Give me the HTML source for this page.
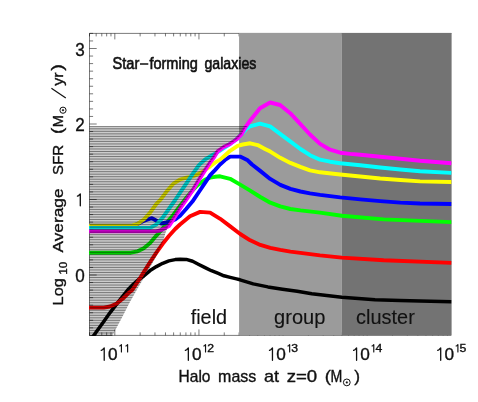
<!DOCTYPE html>
<html><head><meta charset="utf-8"><title>plot</title>
<style>
html,body{margin:0;padding:0;background:#fff;}
body{width:478px;height:402px;overflow:hidden;font-family:"Liberation Sans",sans-serif;}
svg{display:block;will-change:transform;}
text{font-family:"Liberation Sans",sans-serif;fill:#111;}
</style></head><body>
<svg width="478" height="402" viewBox="0 0 478 402">
<rect x="0" y="0" width="478" height="402" fill="#fff"/>

<g stroke="#000" stroke-width="0.85" stroke-opacity="0.62" fill="none">
<path d="M89.5,335.4 L89.5,33.4 L451.3,33.4"/>
<path d="M89.5,335.4 L451.3,335.4"/>
<path d="M89.5,335.40 h3.6"/>
<path d="M89.5,327.85 h3.6"/>
<path d="M89.5,320.30 h3.6"/>
<path d="M89.5,312.75 h3.6"/>
<path d="M89.5,305.20 h3.6"/>
<path d="M89.5,297.65 h3.6"/>
<path d="M89.5,290.10 h3.6"/>
<path d="M89.5,282.55 h3.6"/>
<path d="M89.5,275.00 h7.2"/>
<path d="M89.5,267.45 h3.6"/>
<path d="M89.5,259.90 h3.6"/>
<path d="M89.5,252.35 h3.6"/>
<path d="M89.5,244.80 h3.6"/>
<path d="M89.5,237.25 h3.6"/>
<path d="M89.5,229.70 h3.6"/>
<path d="M89.5,222.15 h3.6"/>
<path d="M89.5,214.60 h3.6"/>
<path d="M89.5,207.05 h3.6"/>
<path d="M89.5,199.50 h7.2"/>
<path d="M89.5,191.95 h3.6"/>
<path d="M89.5,184.40 h3.6"/>
<path d="M89.5,176.85 h3.6"/>
<path d="M89.5,169.30 h3.6"/>
<path d="M89.5,161.75 h3.6"/>
<path d="M89.5,154.20 h3.6"/>
<path d="M89.5,146.65 h3.6"/>
<path d="M89.5,139.10 h3.6"/>
<path d="M89.5,131.55 h3.6"/>
<path d="M89.5,124.00 h7.2"/>
<path d="M89.5,116.45 h3.6"/>
<path d="M89.5,108.90 h3.6"/>
<path d="M89.5,101.35 h3.6"/>
<path d="M89.5,93.80 h3.6"/>
<path d="M89.5,86.25 h3.6"/>
<path d="M89.5,78.70 h3.6"/>
<path d="M89.5,71.15 h3.6"/>
<path d="M89.5,63.60 h3.6"/>
<path d="M89.5,56.05 h3.6"/>
<path d="M89.5,48.50 h7.2"/>
<path d="M89.5,40.95 h3.6"/>
<path d="M89.5,33.40 h3.6"/>
<path d="M89.50,33.4 v3"/>
<path d="M89.50,335.4 v-3"/>
<path d="M96.16,33.4 v3"/>
<path d="M96.16,335.4 v-3"/>
<path d="M101.79,33.4 v3"/>
<path d="M101.79,335.4 v-3"/>
<path d="M106.67,33.4 v3"/>
<path d="M106.67,335.4 v-3"/>
<path d="M110.97,33.4 v3"/>
<path d="M110.97,335.4 v-3"/>
<path d="M114.82,33.4 v6"/>
<path d="M114.82,335.4 v-6"/>
<path d="M140.14,33.4 v3"/>
<path d="M140.14,335.4 v-3"/>
<path d="M154.96,33.4 v3"/>
<path d="M154.96,335.4 v-3"/>
<path d="M165.47,33.4 v3"/>
<path d="M165.47,335.4 v-3"/>
<path d="M173.62,33.4 v3"/>
<path d="M173.62,335.4 v-3"/>
<path d="M180.28,33.4 v3"/>
<path d="M180.28,335.4 v-3"/>
<path d="M185.91,33.4 v3"/>
<path d="M185.91,335.4 v-3"/>
<path d="M190.79,33.4 v3"/>
<path d="M190.79,335.4 v-3"/>
<path d="M195.09,33.4 v3"/>
<path d="M195.09,335.4 v-3"/>
<path d="M198.94,33.4 v6"/>
<path d="M198.94,335.4 v-6"/>
<path d="M224.26,33.4 v3"/>
<path d="M224.26,335.4 v-3"/>
<path d="M239.08,33.4 v3"/>
<path d="M239.08,335.4 v-3"/>
<path d="M249.59,33.4 v3"/>
<path d="M249.59,335.4 v-3"/>
<path d="M257.74,33.4 v3"/>
<path d="M257.74,335.4 v-3"/>
<path d="M264.40,33.4 v3"/>
<path d="M264.40,335.4 v-3"/>
<path d="M270.03,33.4 v3"/>
<path d="M270.03,335.4 v-3"/>
<path d="M274.91,33.4 v3"/>
<path d="M274.91,335.4 v-3"/>
<path d="M279.21,33.4 v3"/>
<path d="M279.21,335.4 v-3"/>
<path d="M283.06,33.4 v6"/>
<path d="M283.06,335.4 v-6"/>
<path d="M308.38,33.4 v3"/>
<path d="M308.38,335.4 v-3"/>
<path d="M323.20,33.4 v3"/>
<path d="M323.20,335.4 v-3"/>
<path d="M333.71,33.4 v3"/>
<path d="M333.71,335.4 v-3"/>
<path d="M341.86,33.4 v3"/>
<path d="M341.86,335.4 v-3"/>
<path d="M348.52,33.4 v3"/>
<path d="M348.52,335.4 v-3"/>
<path d="M354.15,33.4 v3"/>
<path d="M354.15,335.4 v-3"/>
<path d="M359.03,33.4 v3"/>
<path d="M359.03,335.4 v-3"/>
<path d="M363.33,33.4 v3"/>
<path d="M363.33,335.4 v-3"/>
<path d="M367.18,33.4 v6"/>
<path d="M367.18,335.4 v-6"/>
<path d="M392.50,33.4 v3"/>
<path d="M392.50,335.4 v-3"/>
<path d="M407.32,33.4 v3"/>
<path d="M407.32,335.4 v-3"/>
<path d="M417.83,33.4 v3"/>
<path d="M417.83,335.4 v-3"/>
<path d="M425.98,33.4 v3"/>
<path d="M425.98,335.4 v-3"/>
<path d="M432.64,33.4 v3"/>
<path d="M432.64,335.4 v-3"/>
<path d="M438.27,33.4 v3"/>
<path d="M438.27,335.4 v-3"/>
<path d="M443.15,33.4 v3"/>
<path d="M443.15,335.4 v-3"/>
<path d="M447.45,33.4 v3"/>
<path d="M447.45,335.4 v-3"/>
</g>
<rect x="239.08" y="33.0" width="102.78" height="302.2" fill="#9b9b9b"/>
<rect x="341.86" y="33.0" width="109.74" height="302.2" fill="#737373"/>
<defs><clipPath id="plot"><rect x="89.0" y="33.4" width="362.6" height="302.5"/></clipPath>
<clipPath id="hp"><polygon points="89.5,125.9 247.5,125.9 245.2,127.6 241.4,134.5 236.4,139.5 230.1,143.9 223.8,147 217.6,151.4 213.5,158.2 210.2,162.6 205.2,170.1 198.9,180.1 192.7,190.2 185.5,200.9 181.1,207 176.8,213.9 172.4,220.9 168,226.5 165.5,232.7 163.5,240 158.3,252.6 151.4,265.1 136.7,290 129.6,302.6 123.3,315.1 112.4,335.4 112.4,336 89.5,336"/></clipPath></defs>
<g clip-path="url(#plot)" fill="none" stroke-width="3.9" stroke-linejoin="round" stroke-linecap="butt">
<path d="M88,343 L94.4,334.6 L103.8,321.4 L110.1,312.6 L116.4,304.4 L122.7,296.3 L127.7,290 L133,284.5 L138,280 L143.8,276.0 L150.1,270.6 L156.4,266.6 L162.7,263.3 L168.9,260.9 L175.2,259.6 L180.2,259.2 L186.3,259.4 L192.6,261.3 L198.8,264.5 L205.1,267.6 L211.4,270.7 L217.7,273.2 L223.9,275.8 L230.2,277.4 L236.5,278.9 L240,279.8 L253.2,283.9 L267.9,286.9 L282.5,289.2 L297.2,291.3 L311.8,293.8 L341.8,297.2 L375,299.7 L400,300.5 L420,301 L451.5,301.7" stroke="#000" stroke-width="3.5"/>
<path d="M88,307.6 L103.8,307.6 L110.1,306.5 L116.4,303.8 L122.7,298.8 L127.7,293.8 L132.3,290 L137.6,282 L143.8,272 L150.1,262 L156.4,252.6 L162.7,243.8 L168.9,236.0 L175.2,229 L180,224.5 L190,216.3 L200.1,211.9 L210.1,212.6 L220.2,218.8 L230.2,226.4 L240.2,234.0 L250.2,240.3 L260.3,244.9 L270.3,247.9 L280.3,249.9 L290.4,251.6 L300.4,252.9 L320,255.4 L341.8,257.6 L383.7,260.3 L451.5,262.9" stroke="#f00"/>
<path d="M88,252.7 L131,252.7 L137.6,251.3 L143.8,248.2 L150.1,243.1 L156.4,235.6 L162.7,228.5 L168.9,220.1 L172.7,215.7 L180,206 L187,197 L193,190 L197.7,185.1 L205.2,179.5 L210.2,177.6 L215,176.8 L220.1,176.3 L230.1,178.8 L240.2,184.6 L250.2,190.6 L260.3,197.0 L270.3,202.7 L280.3,206.4 L290.4,209 L300.4,210.4 L320,212.6 L341.8,215.7 L383.7,219.4 L451.5,222.1" stroke="#0f0"/>
<path d="M88,225.8 L134,225.8 L139,223.3 L143,221.3 L147,219.7 L152,218.2 L157,221 L161.4,223.5 L168.9,222 L175.2,219.5 L180.1,215.7 L186.3,208.8 L192.6,201.3 L198.9,192 L205.2,182.6 L210.2,175.1 L215,170.1 L220,164.5 L225,160 L230.1,156.6 L240.1,156.6 L247.7,160.3 L252,164.5 L260.2,170.9 L270.2,178.9 L280.3,184.9 L290.4,188.9 L300.4,191.5 L310,193.4 L320.1,194.9 L340.2,197.4 L360.3,199.4 L380.3,201.1 L400.4,202.6 L420,203.5 L451.5,204.0" stroke="#00f"/>
<path d="M88,225.8 L131,225.8 L137.6,223.9 L143.8,219.5 L150.1,212.6 L156.4,203.8 L160.6,199.6 L167.6,190.2 L173.8,183.3 L180.1,179.5 L186.4,177.6 L192.7,176.4 L198.9,173.8 L202.1,172 L210.2,166.3 L215,162.6 L220.1,159.6 L225.1,155.2 L230.1,150.8 L237.6,145.8 L242.7,144.5 L250.2,143.3 L257.7,145.1 L265,148.9 L270.3,151.6 L280.3,157.8 L290.4,162.9 L300.4,166.9 L310,170.3 L320.1,172.3 L340.2,174.5 L360.3,176.5 L380.3,178.5 L400.4,180 L420,181.4 L451.5,182" stroke="#ff0"/>
<path d="M88,227.9 L150.1,227.9 L156.4,224.5 L162.7,217.6 L168.9,208.8 L175.2,200 L180.1,192.7 L186.4,183.3 L192.7,173.8 L198.9,165.1 L205.2,159.4 L211.5,155.6 L215,153.8 L223.8,148 L230.1,144 L236.4,139.5 L241.4,134.5 L246.4,128.8 L250,126.4 L260,123.6 L270.1,126.4 L280.1,133.9 L290.2,141.4 L300.4,149 L310,155.2 L320.1,159.7 L330.1,161.7 L340.2,163.2 L360.3,165.2 L380.3,167.5 L400.4,169.5 L420,171.3 L451.5,172.9" stroke="#0ff"/>
<path d="M88,231.4 L156,231.4 L160,230.5 L163.7,228.9 L168.9,226.1 L172.4,220.9 L176.8,213.9 L181.1,207 L185.5,200.9 L192.7,190.2 L198.9,180.1 L205.2,170.1 L210.2,162.6 L213.5,158.2 L217.6,151.4 L223.8,147 L230.1,143.9 L236.4,139.5 L241.4,134.5 L245.2,127.6 L250,120.7 L260,108.2 L270.1,102.5 L280.1,105 L290.2,113.2 L300.2,123.9 L310,134.5 L320.1,143.9 L330.1,149.7 L340.2,152.7 L350.2,153.9 L360.3,154.7 L380.3,156.7 L400.4,158.7 L420,160.7 L451.5,163.2" stroke="#f0f"/>
</g>
<polygon points="89.5,125.9 247.5,125.9 245.2,127.6 241.4,134.5 236.4,139.5 230.1,143.9 223.8,147 217.6,151.4 213.5,158.2 210.2,162.6 205.2,170.1 198.9,180.1 192.7,190.2 185.5,200.9 181.1,207 176.8,213.9 172.4,220.9 168,226.5 165.5,232.7 163.5,240 158.3,252.6 151.4,265.1 136.7,290 129.6,302.6 123.3,315.1 112.4,335.4 112.4,336 89.5,336" fill="#000" fill-opacity="0.2"/>
<g clip-path="url(#hp)" stroke="#000" stroke-width="1" stroke-opacity="0.42">
<path d="M89,126.30 H250"/>
<path d="M89,128.82 H250"/>
<path d="M89,131.34 H250"/>
<path d="M89,133.86 H250"/>
<path d="M89,136.38 H250"/>
<path d="M89,138.90 H250"/>
<path d="M89,141.42 H250"/>
<path d="M89,143.94 H250"/>
<path d="M89,146.46 H250"/>
<path d="M89,148.98 H250"/>
<path d="M89,151.50 H250"/>
<path d="M89,154.02 H250"/>
<path d="M89,156.54 H250"/>
<path d="M89,159.06 H250"/>
<path d="M89,161.58 H250"/>
<path d="M89,164.10 H250"/>
<path d="M89,166.62 H250"/>
<path d="M89,169.14 H250"/>
<path d="M89,171.66 H250"/>
<path d="M89,174.18 H250"/>
<path d="M89,176.70 H250"/>
<path d="M89,179.22 H250"/>
<path d="M89,181.74 H250"/>
<path d="M89,184.26 H250"/>
<path d="M89,186.78 H250"/>
<path d="M89,189.30 H250"/>
<path d="M89,191.82 H250"/>
<path d="M89,194.34 H250"/>
<path d="M89,196.86 H250"/>
<path d="M89,199.38 H250"/>
<path d="M89,201.90 H250"/>
<path d="M89,204.42 H250"/>
<path d="M89,206.94 H250"/>
<path d="M89,209.46 H250"/>
<path d="M89,211.98 H250"/>
<path d="M89,214.50 H250"/>
<path d="M89,217.02 H250"/>
<path d="M89,219.54 H250"/>
<path d="M89,222.06 H250"/>
<path d="M89,224.58 H250"/>
<path d="M89,227.10 H250"/>
<path d="M89,229.62 H250"/>
<path d="M89,232.14 H250"/>
<path d="M89,234.66 H250"/>
<path d="M89,237.18 H250"/>
<path d="M89,239.70 H250"/>
<path d="M89,242.22 H250"/>
<path d="M89,244.74 H250"/>
<path d="M89,247.26 H250"/>
<path d="M89,249.78 H250"/>
<path d="M89,252.30 H250"/>
<path d="M89,254.82 H250"/>
<path d="M89,257.34 H250"/>
<path d="M89,259.86 H250"/>
<path d="M89,262.38 H250"/>
<path d="M89,264.90 H250"/>
<path d="M89,267.42 H250"/>
<path d="M89,269.94 H250"/>
<path d="M89,272.46 H250"/>
<path d="M89,274.98 H250"/>
<path d="M89,277.50 H250"/>
<path d="M89,280.02 H250"/>
<path d="M89,282.54 H250"/>
<path d="M89,285.06 H250"/>
<path d="M89,287.58 H250"/>
<path d="M89,290.10 H250"/>
<path d="M89,292.62 H250"/>
<path d="M89,295.14 H250"/>
<path d="M89,297.66 H250"/>
<path d="M89,300.18 H250"/>
<path d="M89,302.70 H250"/>
<path d="M89,305.22 H250"/>
<path d="M89,307.74 H250"/>
<path d="M89,310.26 H250"/>
<path d="M89,312.78 H250"/>
<path d="M89,315.30 H250"/>
<path d="M89,317.82 H250"/>
<path d="M89,320.34 H250"/>
<path d="M89,322.86 H250"/>
<path d="M89,325.38 H250"/>
<path d="M89,327.90 H250"/>
<path d="M89,330.42 H250"/>
<path d="M89,332.94 H250"/>
<path d="M89,335.46 H250"/>
</g>
<g id="txt" stroke="#111" stroke-width="0.35">
<text x="112.50" y="68.5" font-size="16.2" textLength="26.80" lengthAdjust="spacingAndGlyphs" stroke-width="0.6">Star</text>
<path d="M140,64 H148.3" stroke="#111" stroke-width="1.5" fill="none"/>
<text x="149.40" y="68.5" font-size="16.2" textLength="48.50" lengthAdjust="spacingAndGlyphs" stroke-width="0.6">forming</text>
<text x="204.50" y="68.5" font-size="16.2" textLength="51.90" lengthAdjust="spacingAndGlyphs" stroke-width="0.6">galaxies</text>
<text x="190.70" y="323.6" font-size="20" textLength="36.40" lengthAdjust="spacingAndGlyphs" stroke-width="0.12">field</text>
<text x="274.10" y="324.1" font-size="19.5" textLength="51.30" lengthAdjust="spacingAndGlyphs" stroke-width="0.12">group</text>
<text x="356.10" y="324.1" font-size="20" textLength="58.70" lengthAdjust="spacingAndGlyphs" stroke-width="0.12">cluster</text>
<text x="75.20" y="282.3" font-size="18.3" textLength="9.50" lengthAdjust="spacingAndGlyphs">0</text>
<text x="75.20" y="131.3" font-size="18.3" textLength="9.50" lengthAdjust="spacingAndGlyphs">2</text>
<text x="75.20" y="55.8" font-size="18.3" textLength="9.50" lengthAdjust="spacingAndGlyphs">3</text>
<path d="M77.47,196.14 L78.65,195.55 L80.30,193.90 L80.30,205.70" fill="none" stroke="#111" stroke-width="1.35" stroke-linejoin="round" stroke-linecap="round"/>
<path d="M101.27,350.34 L102.50,349.72 L104.22,348.00 L104.22,360.30" fill="none" stroke="#111" stroke-width="1.3" stroke-linejoin="round" stroke-linecap="round"/>
<text x="107.92" y="360.4" font-size="17.0" textLength="9.60" lengthAdjust="spacingAndGlyphs">0</text>
<path d="M119.65,346.01 L120.39,345.64 L121.42,344.60 L121.42,352.00" fill="none" stroke="#111" stroke-width="1.15" stroke-linejoin="round" stroke-linecap="round"/>
<path d="M125.85,346.01 L126.59,345.64 L127.62,344.60 L127.62,352.00" fill="none" stroke="#111" stroke-width="1.15" stroke-linejoin="round" stroke-linecap="round"/>
<path d="M185.39,350.34 L186.62,349.72 L188.34,348.00 L188.34,360.30" fill="none" stroke="#111" stroke-width="1.3" stroke-linejoin="round" stroke-linecap="round"/>
<text x="192.04" y="360.4" font-size="17.0" textLength="9.60" lengthAdjust="spacingAndGlyphs">0</text>
<path d="M203.77,346.01 L204.51,345.64 L205.54,344.60 L205.54,352.00" fill="none" stroke="#111" stroke-width="1.15" stroke-linejoin="round" stroke-linecap="round"/>
<text x="207.24" y="352.1" font-size="10.6" textLength="6.80" lengthAdjust="spacingAndGlyphs">2</text>
<path d="M269.51,350.34 L270.74,349.72 L272.46,348.00 L272.46,360.30" fill="none" stroke="#111" stroke-width="1.3" stroke-linejoin="round" stroke-linecap="round"/>
<text x="276.16" y="360.4" font-size="17.0" textLength="9.60" lengthAdjust="spacingAndGlyphs">0</text>
<path d="M287.89,346.01 L288.63,345.64 L289.66,344.60 L289.66,352.00" fill="none" stroke="#111" stroke-width="1.15" stroke-linejoin="round" stroke-linecap="round"/>
<text x="291.36" y="352.1" font-size="10.6" textLength="6.80" lengthAdjust="spacingAndGlyphs">3</text>
<path d="M353.63,350.34 L354.86,349.72 L356.58,348.00 L356.58,360.30" fill="none" stroke="#111" stroke-width="1.3" stroke-linejoin="round" stroke-linecap="round"/>
<text x="360.28" y="360.4" font-size="17.0" textLength="9.60" lengthAdjust="spacingAndGlyphs">0</text>
<path d="M372.00,346.01 L372.74,345.64 L373.78,344.60 L373.78,352.00" fill="none" stroke="#111" stroke-width="1.15" stroke-linejoin="round" stroke-linecap="round"/>
<text x="375.48" y="352.1" font-size="10.6" textLength="6.80" lengthAdjust="spacingAndGlyphs">4</text>
<path d="M437.75,350.34 L438.98,349.72 L440.70,348.00 L440.70,360.30" fill="none" stroke="#111" stroke-width="1.3" stroke-linejoin="round" stroke-linecap="round"/>
<text x="444.40" y="360.4" font-size="17.0" textLength="9.60" lengthAdjust="spacingAndGlyphs">0</text>
<path d="M456.12,346.01 L456.86,345.64 L457.90,344.60 L457.90,352.00" fill="none" stroke="#111" stroke-width="1.15" stroke-linejoin="round" stroke-linecap="round"/>
<text x="459.60" y="352.1" font-size="10.6" textLength="6.80" lengthAdjust="spacingAndGlyphs">5</text>
<text x="178.60" y="382.1" font-size="15.7" textLength="31.90" lengthAdjust="spacingAndGlyphs">Halo</text>
<text x="218.10" y="382.1" font-size="15.7" textLength="38.10" lengthAdjust="spacingAndGlyphs">mass</text>
<text x="264.00" y="382.1" font-size="15.7" textLength="15.10" lengthAdjust="spacingAndGlyphs">at</text>
<text x="286.70" y="382.1" font-size="15.7" textLength="30.50" lengthAdjust="spacingAndGlyphs">z=0</text>
<text x="324.70" y="382.1" font-size="16.7" textLength="6.20" lengthAdjust="spacingAndGlyphs">(</text>
<text x="330.60" y="382.1" font-size="15.7" textLength="11.80" lengthAdjust="spacingAndGlyphs">M</text>
<circle cx="346.8" cy="382.4" r="3.4" fill="none" stroke="#111" stroke-width="1"/><circle cx="346.8" cy="382.4" r="0.9" fill="#111"/>
<text x="354.30" y="382.1" font-size="16.7" textLength="5.80" lengthAdjust="spacingAndGlyphs">)</text>
<g transform="translate(62.8,0) rotate(-90)">
<text x="-305.40" y="0" font-size="15.3" textLength="27.20" lengthAdjust="spacingAndGlyphs">Log</text>
<text x="-274.70" y="4.5" font-size="11.2" textLength="13.00" lengthAdjust="spacingAndGlyphs">10</text>
<text x="-252.50" y="0" font-size="15.3" textLength="64.10" lengthAdjust="spacingAndGlyphs">Average</text>
<text x="-174.90" y="0" font-size="15.3" textLength="30.10" lengthAdjust="spacingAndGlyphs">SFR</text>
<text x="-134.10" y="0.5" font-size="16.5" textLength="6.30" lengthAdjust="spacingAndGlyphs">(</text>
<text x="-127.30" y="0" font-size="15.3" textLength="12.20" lengthAdjust="spacingAndGlyphs">M</text>
<circle cx="-110.2" cy="0.2" r="3.1" fill="none" stroke="#111" stroke-width="1"/><circle cx="-110.2" cy="0.2" r="0.9" fill="#111"/>
<path d="M-98,3.0 L-88.2,-11.4" stroke="#111" stroke-width="1.2" fill="none"/>
<text x="-85.70" y="0" font-size="15.3" textLength="13.40" lengthAdjust="spacingAndGlyphs">yr</text>
<text x="-70.80" y="0.5" font-size="16.5" textLength="6.70" lengthAdjust="spacingAndGlyphs">)</text>
</g>
</g>
</svg></body></html>
